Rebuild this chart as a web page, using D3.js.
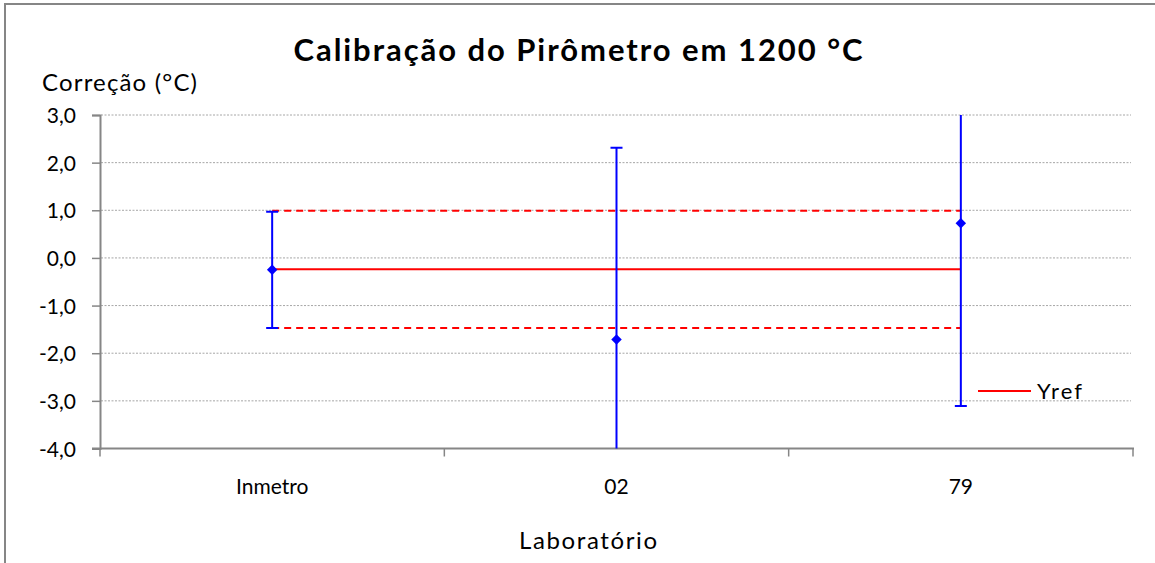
<html>
<head>
<meta charset="utf-8">
<title>calibracao</title>
<script src="https://cdn.jsdelivr.net/npm/d3@7"></script>
<style>
body { margin:0; background:#fff; }
text { font-family: Lato, "Open Sans", sans-serif; fill:#000; }
</style>
</head>
<body>
<svg id="chart" width="1155" height="563"></svg>
<script>
// data
var labs = ["Inmetro", "02", "79"];
var correcao = [-0.25, -1.71, 0.73];
var incerteza = [1.22, 4.02, 3.84];
var yref = -0.24;
var uref = 1.23;
var y_ticks = [3, 2, 1, 0, -1, -2, -3, -4];

var svg = d3.select("#chart");

var left = 100, right = 1133, top_y = 115, bottom_y = 448.5;

var x = d3.scaleBand().domain(labs).range([left, right]).padding(0);
var y = d3.scaleLinear().domain([-4, 3]).range([bottom_y, top_y]);
var fmt = function(d) { return d.toFixed(1).replace(".", ","); };

// outer frame
svg.append("rect").attr("x", 5).attr("y", 4).attr("width", 1170).attr("height", 600)
  .style("fill", "none").style("stroke", "#868686").style("stroke-width", 2);

// grid
svg.append("g").selectAll("line").data(y_ticks.filter(function(d){ return d > -4; })).enter()
  .append("line")
  .attr("x1", left + 1).attr("x2", right - 2)
  .attr("y1", function(d) { return y(d); }).attr("y2", function(d) { return y(d); })
  .style("stroke", "#a6a6a6").style("stroke-width", 1).style("stroke-dasharray", "2,1.5");

// y axis
var yAxis = svg.append("g").attr("transform", "translate(" + left + ",0)")
  .call(d3.axisLeft(y).tickValues(y_ticks).tickFormat(fmt).tickSize(8).tickPadding(16));
yAxis.select(".domain").style("stroke", "#868686").style("stroke-width", 2);
yAxis.selectAll(".tick line").style("stroke", "#868686").style("stroke-width", 1.5);
yAxis.selectAll(".tick text").style("font-size", "21px").style("font-family", "Lato, sans-serif")
  .attr("dy", "0.36em");

// x axis
var xAxis = svg.append("g").attr("transform", "translate(0," + bottom_y + ")")
  .call(d3.axisBottom(x).tickSize(0).tickPadding(31));
xAxis.select(".domain").remove();
xAxis.append("line").attr("x1", left - 8).attr("x2", right + 1).attr("y1", 0).attr("y2", 0)
  .style("stroke", "#868686").style("stroke-width", 2);
var bounds = labs.map(function(d) { return x(d); }).concat([right]);
xAxis.selectAll("line.bnd").data(bounds).enter().append("line").attr("class", "bnd")
  .attr("x1", function(d) { return d; }).attr("x2", function(d) { return d; })
  .attr("y1", 0).attr("y2", 8)
  .style("stroke", "#868686").style("stroke-width", 1.5);
xAxis.selectAll(".tick text").style("font-size", "21px").style("font-family", "Lato, sans-serif");

// clip
svg.append("defs").append("clipPath").attr("id", "plotclip")
  .append("rect").attr("x", left).attr("y", top_y).attr("width", right - left).attr("height", bottom_y - top_y);

var cx = function(d) { return x(d) + x.bandwidth() / 2; };
var x0 = cx(labs[0]), x1 = cx(labs[labs.length - 1]);

// reference lines
var refs = svg.append("g");
refs.append("line").attr("x1", x0).attr("x2", x1).attr("y1", y(yref)).attr("y2", y(yref))
  .style("stroke", "red").style("stroke-width", 2);
[yref + uref, yref - uref].forEach(function(v) {
  refs.append("line").attr("x1", x0).attr("x2", x1).attr("y1", y(v)).attr("y2", y(v))
    .style("stroke", "red").style("stroke-width", 2).style("stroke-dasharray", "7,5");
});

// error bars
var eb = svg.append("g").attr("clip-path", "url(#plotclip)").style("stroke", "#0000ff").style("stroke-width", 2);
labs.forEach(function(l, i) {
  var hi = correcao[i] + incerteza[i], lo = correcao[i] - incerteza[i];
  eb.append("line").attr("x1", cx(l)).attr("x2", cx(l)).attr("y1", y(hi)).attr("y2", y(lo));
  eb.append("line").attr("x1", cx(l) - 6).attr("x2", cx(l) + 6).attr("y1", y(hi)).attr("y2", y(hi));
  eb.append("line").attr("x1", cx(l) - 6).attr("x2", cx(l) + 6).attr("y1", y(lo)).attr("y2", y(lo));
});

// markers
svg.append("g").selectAll("path").data(labs).enter().append("path")
  .attr("d", d3.symbol().type(d3.symbolDiamond2).size(70))
  .attr("transform", function(d, i) { return "translate(" + cx(d) + "," + y(correcao[i]) + ")"; })
  .style("fill", "#0000ff");

// legend
svg.append("line").attr("x1", 978).attr("x2", 1031).attr("y1", 391).attr("y2", 391)
  .style("stroke", "red").style("stroke-width", 2);
svg.append("text").attr("x", 1037).attr("y", 399).style("font-size", "22px")
  .attr("textLength", 45).attr("lengthAdjust", "spacing").text("Yref");

// titles
svg.append("text").attr("x", 578).attr("y", 61).attr("text-anchor", "middle")
  .style("font-size", "31px").style("font-weight", "bold")
  .attr("textLength", 569).attr("lengthAdjust", "spacing").text("Calibração do Pirômetro em 1200 °C");
svg.append("text").attr("x", 42).attr("y", 91).style("font-size", "24px")
  .attr("textLength", 155).attr("lengthAdjust", "spacing").text("Correção (°C)");
svg.append("text").attr("x", 588).attr("y", 549).attr("text-anchor", "middle")
  .style("font-size", "24px")
  .attr("textLength", 138).attr("lengthAdjust", "spacing").text("Laboratório");
</script>
</body>
</html>
